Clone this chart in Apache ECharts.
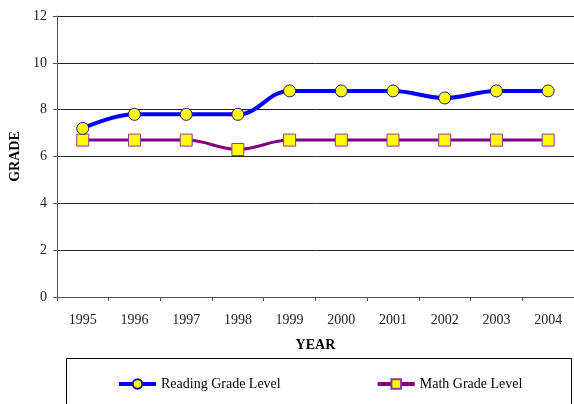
<!DOCTYPE html>
<html>
<head>
<meta charset="utf-8">
<script src="https://cdn.jsdelivr.net/npm/echarts@6/dist/echarts.min.js"></script>
<style>
  html, body { margin: 0; padding: 0; background: #fff; }
  #chart { width: 574px; height: 404px; }
</style>
</head>
<body>
<div id="chart"></div>
<script>
var years = ['1995', '1996', '1997', '1998', '1999', '2000', '2001', '2002', '2003', '2004'];
var reading = [7.2, 7.8, 7.8, 7.8, 8.8, 8.8, 8.8, 8.5, 8.8, 8.8];
var math = [6.7, 6.7, 6.7, 6.3, 6.7, 6.7, 6.7, 6.7, 6.7, 6.7];

var font = '"Liberation Serif", "Times New Roman", serif';

var option = {
	animation: false,
	textStyle: { fontFamily: font },
	grid: { left: 56, right: -1, top: 16, bottom: 107 },
	xAxis: {
		type: 'category',
		data: years,
		name: 'YEAR',
		nameLocation: 'middle',
		nameGap: 41,
		nameTextStyle: { fontFamily: font, fontSize: 14, fontWeight: 'bold', color: '#000' },
		axisLine: { lineStyle: { color: '#555', width: 1 } },
		axisTick: { show: true, alignWithLabel: false, length: 4, lineStyle: { color: '#555' } },
		axisLabel: { fontFamily: font, fontSize: 14, color: '#222', margin: 16 }
	},
	yAxis: {
		type: 'value',
		min: 0,
		max: 12,
		interval: 2,
		name: 'GRADE',
		nameLocation: 'middle',
		nameGap: 30,
		nameRotate: 90,
		nameTextStyle: { fontFamily: font, fontSize: 14, fontWeight: 'bold', color: '#000' },
		axisLine: { show: true, lineStyle: { color: '#555', width: 1 } },
		axisTick: { show: true, length: 4, lineStyle: { color: '#555' } },
		axisLabel: { fontFamily: font, fontSize: 14, color: '#222', margin: 10 },
		splitLine: { lineStyle: { color: '#222', width: 1 } }
	},
	legend: {
		left: 112,
		top: 372,
		itemWidth: 37,
		itemHeight: 12,
		itemGap: 95,
		lineStyle: { width: 4 },
		textStyle: { fontFamily: font, fontSize: 14, color: '#000' },
		data: ['Reading Grade Level', 'Math Grade Level']
	},
	graphic: [{
		type: 'rect',
		shape: { x: 66.5, y: 358.5, width: 505, height: 60 },
		style: { fill: 'none', stroke: '#000', lineWidth: 1 }
	}],
	series: [{
		name: 'Reading Grade Level',
		type: 'line',
		data: reading,
		smooth: 0.4,
		symbol: 'circle',
		symbolSize: 12,
		lineStyle: { color: '#0000ff', width: 4 },
		itemStyle: { color: '#ffff00', borderColor: '#1a1a80', borderWidth: 1 },
		z: 3
	}, {
		name: 'Math Grade Level',
		type: 'line',
		data: math,
		smooth: 0.4,
		symbol: 'rect',
		symbolSize: 12,
		lineStyle: { color: '#800080', width: 3 },
		itemStyle: { color: '#ffff00', borderColor: '#993399', borderWidth: 1 },
		z: 2
	}]
};

var chart = echarts.init(document.getElementById('chart'));
chart.setOption(option);
</script>
</body>
</html>
